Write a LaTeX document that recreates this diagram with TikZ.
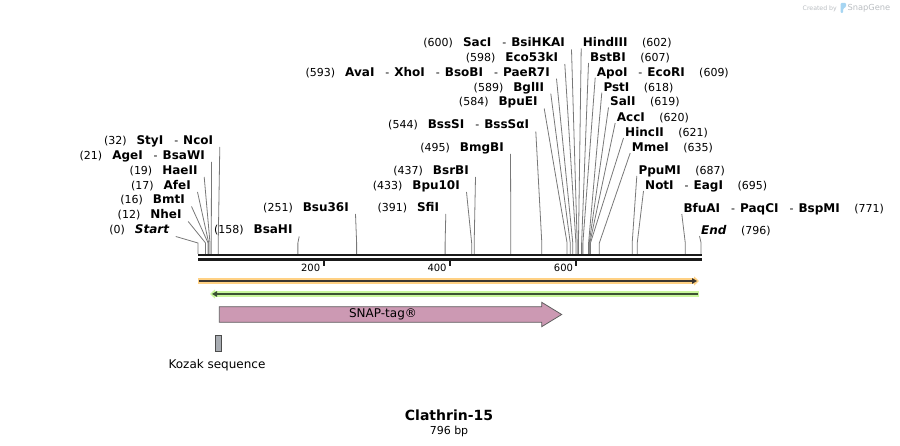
\documentclass[tikz,border=0pt]{standalone}
\usepackage{fontspec}
\setmainfont{DejaVu Sans}
\usepackage{tikz}
\usetikzlibrary{calc}
\usetikzlibrary{arrows.meta}

\definecolor{cutgray}{gray}{0.47}
\definecolor{seqblack}{HTML}{1A1A1A}
\definecolor{orfband}{HTML}{FFD184}
\definecolor{orfline}{HTML}{3B3530}
\definecolor{revband}{HTML}{C9F79C}
\definecolor{revline}{HTML}{3C5233}
\definecolor{snapfill}{HTML}{CC99B3}
\definecolor{kozakfill}{HTML}{A8ACB2}
\definecolor{markgray}{HTML}{B9BDC1}
\definecolor{marklogo}{HTML}{A6D5F2}

\newcommand{\sitepos}[1]{{\fontsize{11}{13}\selectfont(#1)}}
\newcommand{\sitename}[1]{{\fontsize{12}{14}\selectfont\bfseries #1}}
\newcommand{\sitesep}{\hspace{11pt}{\fontsize{11}{13}\selectfont-}\hspace{5pt}}

\begin{document}
\begin{tikzpicture}[x=1pt,y=-1pt,
    lbl/.style={inner sep=0pt,text height=8.8pt,text depth=0pt},
    cutline/.style={cutgray,line width=0.8pt},
    seqline/.style={seqblack,line width=2.3pt},
    tick/.style={seqblack,line width=2pt},
    featfont/.style={font=\fontsize{12}{14}\selectfont},
  ]
  \useasboundingbox (0,0) rectangle (900,446);

  % cut sites, labels to the left of the cut
  \foreach \nm/\bp/\xx/\yy/\txt in {
      startsite/0/169.3/229.5/{\sitepos{0}\hspace{10pt}\sitename{\itshape Start}},
      nheI/12/181.7/214.5/{\sitepos{12}\hspace{10pt}\sitename{NheI}},
      bmtI/16/185/199.5/{\sitepos{16}\hspace{10pt}\sitename{BmtI}},
      afeI/17/191/185/{\sitepos{17}\hspace{10pt}\sitename{AfeI}},
      haeII/19/197.7/170/{\sitepos{19}\hspace{10pt}\sitename{HaeII}},
      ageI/21/205/155/{\sitepos{21}\hspace{10pt}\sitename{AgeI}\sitesep\sitename{BsaWI}},
      styI/32/213.3/140/{\sitepos{32}\hspace{10pt}\sitename{StyI}\sitesep\sitename{NcoI}},
      bsaHI/158/292.7/229.5/{\sitepos{158}\hspace{10pt}\sitename{BsaHI}},
      bsu36I/251/349/207/{\sitepos{251}\hspace{10pt}\sitename{Bsu36I}},
      sfiI/391/439.3/207/{\sitepos{391}\hspace{10pt}\sitename{SfiI}},
      bpu10I/433/460/185/{\sitepos{433}\hspace{10pt}\sitename{Bpu10I}},
      bsrBI/437/469/170/{\sitepos{437}\hspace{10pt}\sitename{BsrBI}},
      bmgBI/495/504/147/{\sitepos{495}\hspace{10pt}\sitename{BmgBI}},
      bssSI/544/529.3/124.5/{\sitepos{544}\hspace{10pt}\sitename{BssSI}\sitesep\sitename{BssSαI}},
      bpuEI/584/537.7/101.5/{\sitepos{584}\hspace{10pt}\sitename{BpuEI}},
      bglII/589/544.3/86.7/{\sitepos{589}\hspace{10pt}\sitename{BglII}},
      avaI/593/550/71.7/{\sitepos{593}\hspace{10pt}\sitename{AvaI}\sitesep\sitename{XhoI}\sitesep\sitename{BsoBI}\sitesep\sitename{PaeR7I}},
      eco53kI/598/558.3/57/{\sitepos{598}\hspace{10pt}\sitename{Eco53kI}},
      sacI/600/565/42.5/{\sitepos{600}\hspace{10pt}\sitename{SacI}\sitesep\sitename{BsiHKAI}}}{
    \node[lbl,anchor=east] (\nm) at (\xx,\yy) {\txt};
    \coordinate (\nm-bend) at ({198+0.632*\bp},243);
    \coordinate (\nm-cut) at ({198+0.632*\bp},254);
    \draw[cutline] ([shift={(6.5,7)}]\nm.east) -- (\nm-bend) -- (\nm-cut);
  }

  % cut sites, labels to the right of the cut
  \foreach \nm/\bp/\xx/\yy/\txt in {
      hindIII/602/582.7/42.5/{\sitename{HindIII}\hspace{14.5pt}\sitepos{602}},
      bstBI/607/590/57/{\sitename{BstBI}\hspace{14.5pt}\sitepos{607}},
      apoI/609/596.7/71.7/{\sitename{ApoI}\sitesep\sitename{EcoRI}\hspace{14.5pt}\sitepos{609}},
      pstI/618/603.3/86.7/{\sitename{PstI}\hspace{14.5pt}\sitepos{618}},
      salI/619/610/101.5/{\sitename{SalI}\hspace{14.5pt}\sitepos{619}},
      accI/620/616.7/117/{\sitename{AccI}\hspace{14.5pt}\sitepos{620}},
      hincII/621/625/132/{\sitename{HincII}\hspace{14.5pt}\sitepos{621}},
      mmeI/635/631.7/147/{\sitename{MmeI}\hspace{14.5pt}\sitepos{635}},
      ppuMI/687/638.3/170/{\sitename{PpuMI}\hspace{14.5pt}\sitepos{687}},
      notI/695/645/185/{\sitename{NotI}\sitesep\sitename{EagI}\hspace{14.5pt}\sitepos{695}},
      bfuAI/771/683.3/208/{\sitename{BfuAI}\sitesep\sitename{PaqCI}\sitesep\sitename{BspMI}\hspace{14.5pt}\sitepos{771}},
      endsite/796/701/230/{\sitename{\itshape End}\hspace{14.5pt}\sitepos{796}}}{
    \node[lbl,anchor=west] (\nm) at (\xx,\yy) {\txt};
    \coordinate (\nm-bend) at ({198+0.632*\bp},243);
    \coordinate (\nm-cut) at ({198+0.632*\bp},254);
    \draw[cutline] ([shift={(-1.5,6)}]\nm.west) -- (\nm-bend) -- (\nm-cut);
  }

  % sequence
  \draw[seqline] (198,255) -- (702,255);
  \draw[seqline] (198,259.5) -- (702,259.5);
  \foreach \t in {200,400,600}{
    \draw[tick] ({198+0.632*\t-0.8},260) -- ++(0,6.5);
    \node[inner sep=0pt,anchor=east,font=\fontsize{10}{12}\selectfont] (tick\t) at ({198+0.632*\t-4},267.5) {\t};
  }

  % forward and reverse bars
  \draw[orfband,line width=5.7pt,-{Triangle[length=5pt,width=9pt]}] (198,281) -- (699,281);
  \draw[orfline,line width=1.8pt,-{Triangle[length=5pt,width=5.5pt]}] (199,281) -- (697,281);
  \draw[revband,line width=5.7pt,-{Triangle[length=5pt,width=9pt]}] (699,294) -- (210,294);
  \draw[revline,line width=1.8pt,-{Triangle[length=5pt,width=5.5pt]}] (698,294) -- (212,294);

  % features
  \draw[fill=snapfill,draw=gray!75!black,line width=0.8pt]
    (219.3,306.7) -- (541.7,306.7) -- (541.7,302.3) -- (561.7,314.5)
    -- (541.7,326.7) -- (541.7,322.3) -- (219.3,322.3) -- cycle;
  \node[featfont,inner sep=0pt] (snap) at (383,314.5) {SNAP-tag®};
  \draw[fill=kozakfill,draw=gray!60!black,line width=0.8pt] (215.3,335) rectangle (221.7,351);
  \node[featfont,inner sep=0pt] (kozak) at (217,365) {Kozak sequence};

  % title
  \node[inner sep=0pt,font=\fontsize{14}{16}\selectfont\bfseries] (title) at (449,415) {Clathrin-15};
  \node[inner sep=0pt,font=\fontsize{11}{13}\selectfont] (length) at (449,431) {796 bp};

  % watermark
  \node[inner sep=0pt,anchor=east,markgray,font=\fontsize{6.2}{7}\selectfont] (created) at (837,8.3) {Created by};
  \fill[marklogo,rounded corners=1pt] (840.7,13) -- (840.7,3) -- (846,3) -- (846,7) -- (843.2,8.5) -- (843.2,13) -- cycle;
  \node[inner sep=0pt,anchor=west,markgray,font=\fontsize{8.3}{10}\selectfont] (snapgene) at (847.3,8.3) {SnapGene};
\end{tikzpicture}
\end{document}
